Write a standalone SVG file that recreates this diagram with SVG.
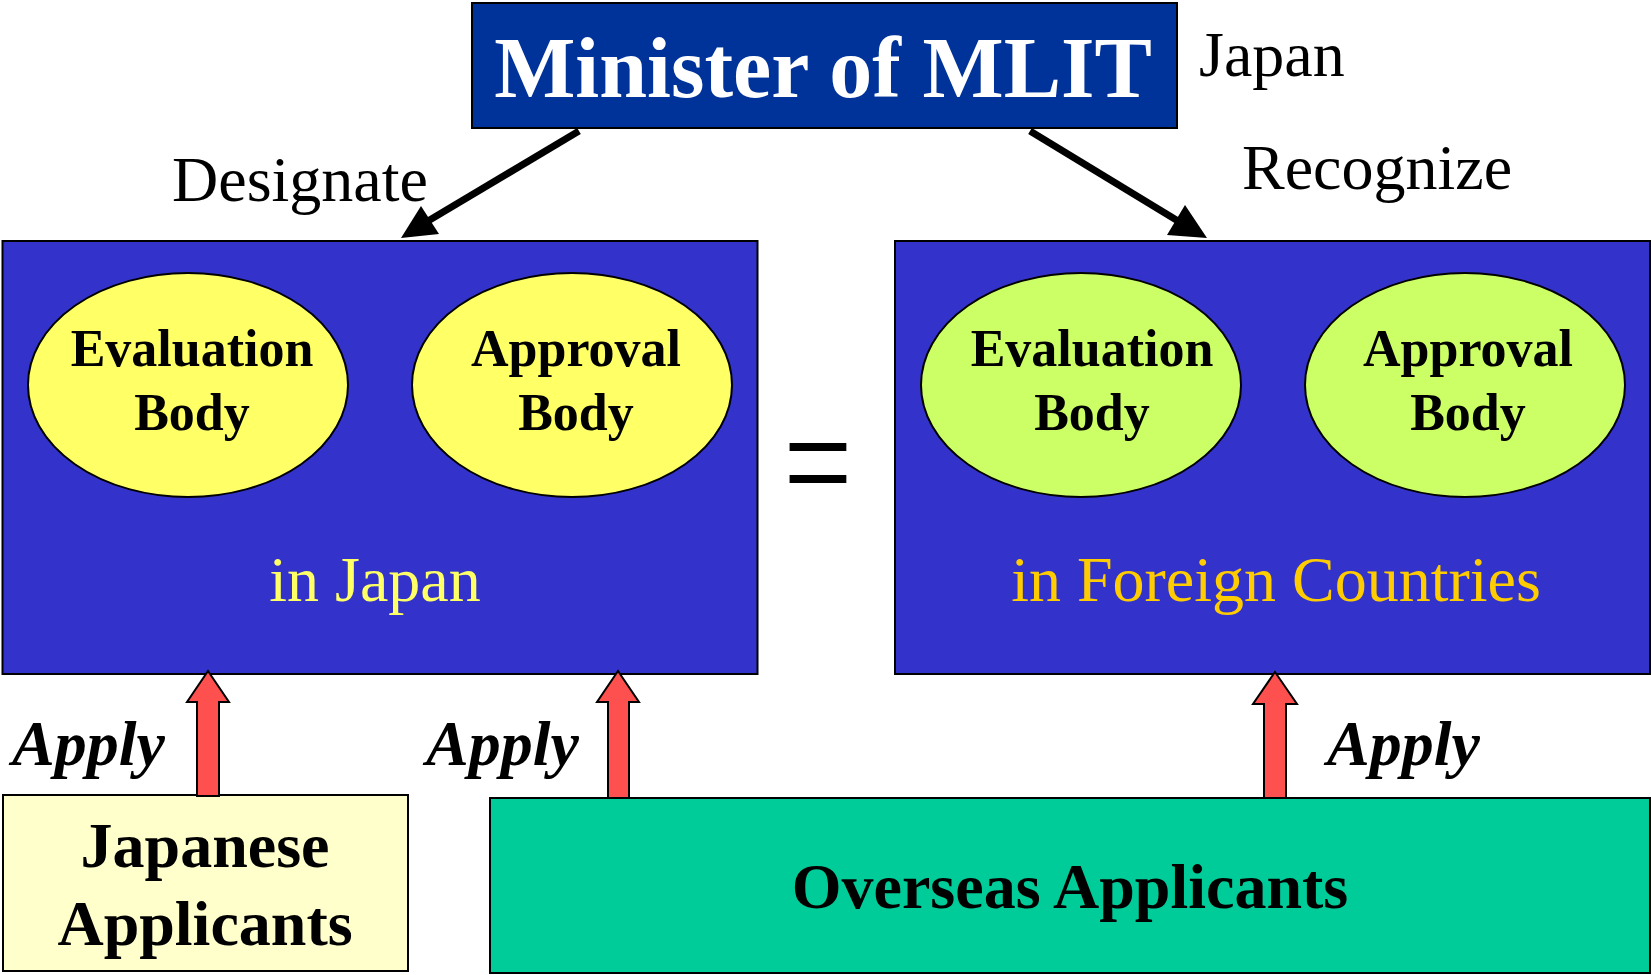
<svg xmlns="http://www.w3.org/2000/svg" width="1651" height="975" viewBox="0 0 1651 975">
<style>
text{font-family:"Liberation Serif","Times New Roman",serif}
.b{font-weight:bold}
.lbl{font-size:64px;fill:#000}
.ell{font-size:52px;font-weight:bold;fill:#000;text-anchor:middle}
.region{fill:#3333CC;stroke:#000;stroke-width:2}
.ye{fill:#FFFF66;stroke:#000;stroke-width:2}
.gr{fill:#CCFF66;stroke:#000;stroke-width:2}
.red{fill:#FF5050;stroke:#000;stroke-width:2;stroke-linejoin:miter}
.apply{font-size:64px;font-weight:bold;font-style:italic;fill:#000}
</style>
<rect width="1651" height="975" fill="#fff"/>
<g id="minister">
<rect x="472" y="3" width="705" height="125" fill="#003399" stroke="#000" stroke-width="2"/>
<text x="823" y="97" class="b" font-size="86" fill="#fff" text-anchor="middle">Minister of MLIT</text>
</g>
<text x="1199" y="76" class="lbl">Japan</text>
<text x="172" y="201" class="lbl">Designate</text>
<text x="1242" y="189" class="lbl">Recognize</text>
<g id="japan-bodies">
<rect class="region" x="2.5" y="241" width="755" height="433"/>
<ellipse class="ye" cx="188" cy="385" rx="160" ry="112"/>
<text class="ell" x="192" y="366">Evaluation</text>
<text class="ell" x="192" y="430">Body</text>
<ellipse class="ye" cx="572" cy="385" rx="160" ry="112"/>
<text class="ell" x="576" y="366">Approval</text>
<text class="ell" x="576" y="430">Body</text>
<text x="375" y="601" font-size="64" fill="#FFFF66" text-anchor="middle">in Japan</text>
</g>
<text x="818" y="516" font-size="122" text-anchor="middle" fill="#000" transform="translate(818 516) scale(1 1.3) translate(-818 -516)">=</text>
<g id="foreign-bodies">
<rect class="region" x="895" y="241" width="755" height="433"/>
<ellipse class="gr" cx="1081" cy="385" rx="160" ry="112"/>
<text class="ell" x="1092" y="366">Evaluation</text>
<text class="ell" x="1092" y="430">Body</text>
<ellipse class="gr" cx="1465" cy="385" rx="160" ry="112"/>
<text class="ell" x="1468" y="366">Approval</text>
<text class="ell" x="1468" y="430">Body</text>
<text x="1276" y="601" font-size="64" fill="#FFCC00" text-anchor="middle">in Foreign Countries</text>
</g>
<g id="japanese-applicants">
<rect x="3" y="795" width="405" height="176" fill="#FFFFCC" stroke="#000" stroke-width="2"/>
<text x="205" y="867" class="b" font-size="64" text-anchor="middle">Japanese</text>
<text x="205" y="945" class="b" font-size="64" text-anchor="middle">Applicants</text>
</g>
<g id="overseas-applicants">
<rect x="490" y="798" width="1160" height="175" fill="#00CC99" stroke="#000" stroke-width="2"/>
<text x="1070" y="908" class="b" font-size="64" text-anchor="middle">Overseas Applicants</text>
</g>
<g id="connectors">
<line x1="579" y1="131" x2="428" y2="221" stroke="#000" stroke-width="7"/>
<polygon points="401,238 421,206 439,234" fill="#000"/>
<line x1="1030" y1="131" x2="1178" y2="221" stroke="#000" stroke-width="7"/>
<polygon points="1207,238 1185,205 1167,235" fill="#000"/>
<polygon class="red" points="208,671 229,702 219,702 219,796 197,796 197,702 187,702"/>
<polygon class="red" points="618,671 639,702 629,702 629,798 608,798 608,702 597,702"/>
<polygon class="red" points="1275,672 1297,704 1286,704 1286,798 1264,798 1264,704 1253,704"/>
<text x="12" y="765" class="apply">Apply</text>
<text x="426" y="765" class="apply">Apply</text>
<text x="1327" y="765" class="apply">Apply</text>
</g>
</svg>
